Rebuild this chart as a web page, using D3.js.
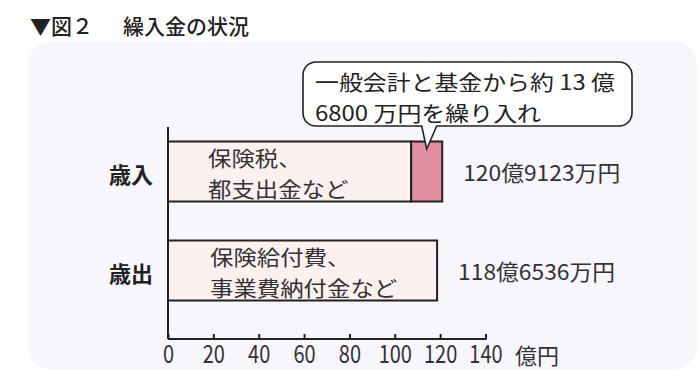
<!DOCTYPE html>
<html><head><meta charset="utf-8">
<script src="https://cdn.jsdelivr.net/npm/d3@7"></script>
<style>
html,body{margin:0;padding:0;background:#fff;}
svg{display:block;font-family:"Noto Sans CJK JP","Noto Sans",sans-serif;}
</style></head>
<body>
<script>
const categories = ["歳入", "歳出"];
const mainValues = [107.2323, 118.6536];      // 億円
const transferValues = [13.68, 0];            // 億円 (繰入金)
const totalLabels = ["120億9123万円", "118億6536万円"];
const innerLabels = [["保険税、", "都支出金など"], ["保険給付費、", "事業費納付金など"]];
const tickValues = [0, 20, 40, 60, 80, 100, 120, 140];
const axisUnit = "億円";
const titleHead = "▼図２";
const titleText = "繰入金の状況";
const calloutLines = ["一般会計と基金から約 13 億", "6800 万円を繰り入れ"];

const W = 699, H = 371;
const svg = d3.select("body").append("svg").attr("width", W).attr("height", H);

// panel
svg.append("rect").attr("x", 28).attr("y", 42).attr("width", 669).attr("height", 327)
  .attr("rx", 22).attr("fill", "#f6f6fb");

// title
svg.append("text").attr("x", 30).attr("y", 34).attr("font-size", 21).attr("fill", "#222")
  .attr("font-weight", 500).text(titleHead);
svg.append("text").attr("x", 123).attr("y", 34).attr("font-size", 21).attr("fill", "#222")
  .attr("font-weight", 500).text(titleText);

const x = d3.scaleLinear().domain([0, 140]).range([168, 485.5]);
const y = d3.scalePoint().domain(categories).range([171.5, 270.5]);
const barH = 60;
const axisY = 339;
const lineGap = 31;

// bars
const g = svg.append("g");
categories.forEach((c, i) => {
  const cy = y(c);
  g.append("rect").attr("x", x(0)).attr("y", cy - barH / 2)
    .attr("width", x(mainValues[i]) - x(0)).attr("height", barH)
    .attr("fill", "#fcf0f1").attr("stroke", "#222").attr("stroke-width", 2);
  if (transferValues[i] > 0) {
    g.append("rect").attr("x", x(mainValues[i])).attr("y", cy - barH / 2)
      .attr("width", x(mainValues[i] + transferValues[i]) - x(mainValues[i])).attr("height", barH)
      .attr("fill", "#e08ea1").attr("stroke", "#222").attr("stroke-width", 2);
  }
  // category label
  svg.append("text").attr("x", 131).attr("y", cy + 1).attr("text-anchor", "middle")
    .attr("dominant-baseline", "central").attr("font-size", 22).attr("font-weight", 700)
    .attr("fill", "#222").text(c);
  // inner labels (one text, two lines)
  const it = svg.append("text").attr("font-size", 21).attr("fill", "#333")
    .attr("dominant-baseline", "central");
  const mid = cy + 1;
  innerLabels[i].forEach((t, j) => {
    it.append("tspan").attr("x", x(0) + 40 + i * 2).attr("y", mid + (j - 0.5) * lineGap)
      .attr("textLength", t.length * 23.4).attr("lengthAdjust", "spacingAndGlyphs")
      .text(t);
  });
  // total label
  svg.append("text").attr("x", x(mainValues[i] + transferValues[i]) + 21).attr("y", cy - 1)
    .attr("dominant-baseline", "central").attr("font-size", 22).attr("fill", "#333")
    .attr("textLength", 157).attr("lengthAdjust", "spacingAndGlyphs")
    .text(totalLabels[i]);
});

// axes
svg.append("line").attr("x1", x(0)).attr("x2", x(0)).attr("y1", 127).attr("y2", axisY)
  .attr("stroke", "#222").attr("stroke-width", 2);
const xAxis = d3.axisBottom(x).tickValues(tickValues).tickSize(-5).tickPadding(6).tickSizeOuter(0);
const ax = svg.append("g").attr("transform", `translate(0,${axisY})`).call(xAxis);
ax.select(".domain").attr("stroke", "#222").attr("stroke-width", 2)
  .attr("d", `M${x(0)},0H${x(140) + 1}`);
ax.selectAll(".tick line").attr("stroke", "#222").attr("stroke-width", 2);
ax.selectAll(".tick text").attr("font-size", 25).attr("fill", "#333")
  .attr("font-family", '"Noto Sans CJK JP",sans-serif').attr("dy", "0.72em")
  .attr("x", 0).attr("transform", "scale(0.8,1)");
svg.append("text").attr("x", 515).attr("y", axisY + 15).attr("dominant-baseline", "central")
  .attr("font-size", 22).attr("fill", "#333").text(axisUnit);

// callout
const tipX = x(mainValues[0] + transferValues[0] / 2);
const bx0 = 303, bx1 = 632, by0 = 62, by1 = 126, r = 13;
const baseL = tipX - 5, baseR = tipX + 10, tipY = 149;
const p = d3.path();
p.moveTo(bx0 + r, by0);
p.lineTo(bx1 - r, by0);
p.arcTo(bx1, by0, bx1, by0 + r, r);
p.lineTo(bx1, by1 - r);
p.arcTo(bx1, by1, bx1 - r, by1, r);
p.lineTo(baseR, by1);
p.lineTo(tipX, tipY);
p.lineTo(baseL, by1);
p.lineTo(bx0 + r, by1);
p.arcTo(bx0, by1, bx0, by1 - r, r);
p.lineTo(bx0, by0 + r);
p.arcTo(bx0, by0, bx0 + r, by0, r);
p.closePath();
svg.append("path").attr("d", p.toString()).attr("fill", "#fff").attr("stroke", "#222").attr("stroke-width", 1.6);
const ct = svg.append("text").attr("font-size", 21).attr("fill", "#222").attr("dominant-baseline", "central");
const cMid = 96.5;
ct.append("tspan").attr("x", 315).attr("y", cMid - lineGap / 2).attr("textLength", 300).attr("lengthAdjust", "spacingAndGlyphs")
  .text(calloutLines[0]);
ct.append("tspan").attr("x", 315).attr("y", cMid + lineGap / 2).attr("textLength", 226).attr("lengthAdjust", "spacingAndGlyphs")
  .text(calloutLines[1]);
</script>
</body></html>
